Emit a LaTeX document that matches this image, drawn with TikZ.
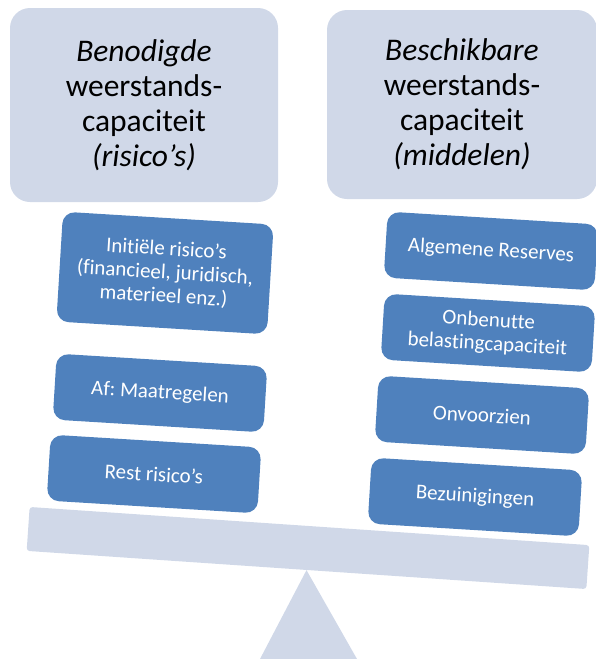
\documentclass[tikz,border=0pt]{standalone}
\usepackage{fontspec}
\setmainfont{Carlito}[Ligatures=NoCommon]
\usepackage{tikz}
\usetikzlibrary{calc}
\usepackage{xcolor}
\definecolor{grijs}{RGB}{208,216,232}
\definecolor{blauw}{RGB}{79,129,189}
\frenchspacing

\begin{document}
\begin{tikzpicture}[x=1pt,y=-1pt,
  kop/.style={fill=grijs,rounded corners=20pt,inner sep=0pt,align=center,
    font=\fontsize{31.5}{35}\selectfont},
  blok/.style={fill=blauw,text=white,rounded corners=12pt,inner sep=0pt,align=center,
    minimum width=211pt,minimum height=66pt,rotate=-3.5,
    font=\fontsize{21}{23.5}\selectfont}]
  % Ventana
  \useasboundingbox (0,0) rectangle (596,659);

  % Kopvakken
  \node[kop,minimum width=268pt,minimum height=194pt] (benodigd) at (144,105)
    {\textit{Benodigde}\\weerstands-\\capaciteit\\\textit{(risico’s)}};
  \node[kop,minimum width=270pt,minimum height=189pt] (beschikbaar) at (462,104.5)
    {\textit{Beschikbare}\\weerstands-\\capaciteit\\\textit{(middelen)}};

  % Balk en steunpunt
  \node[fill=grijs,rounded corners=3pt,minimum width=561pt,minimum height=44pt,
    rotate=-3.9] (balk) at (308,548) {};
  \fill[grijs] (balk.south) -- (260,659) -- (357,659) -- cycle;

  % Risico's (links)
  \node[blok,minimum height=110pt] (initieel) at (165,273)
    {Initiële risico’s\\(financieel, juridisch,\\materieel enz.)};
  \node[blok] (maatregel) at (160,393) {Af: Maatregelen};
  \node[blok] (rest) at (154,474) {Rest risico’s};

  % Middelen (rechts)
  \node[blok] (reserves) at (491,251) {Algemene Reserves};
  \node[blok] (belasting) at (488,333) {Onbenutte\\belastingcapaciteit};
  \node[blok] (onvoorzien) at (482,415) {Onvoorzien};
  \node[blok] (bezuiniging) at (475,497) {Bezuinigingen};
\end{tikzpicture}
\end{document}
